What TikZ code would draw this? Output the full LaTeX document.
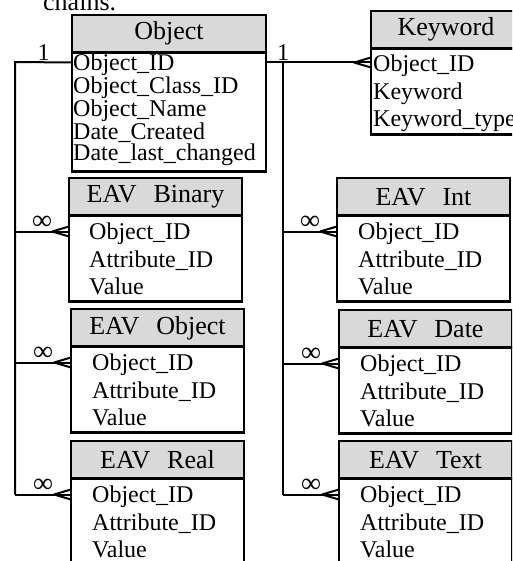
\documentclass[tikz,border=0pt]{standalone}
\usepackage{fontspec}
\setmainfont{Liberation Serif}
\usetikzlibrary{calc}
\definecolor{headgray}{RGB}{217,217,217}

\tikzset{
  head/.style={draw, fill=headgray, line width=2.2pt, anchor=north west,
               inner sep=0pt, outer sep=0pt, minimum height=37.5pt,
               font=\fontsize{26}{26}\selectfont},
  body/.style={draw, line width=2.2pt, anchor=north west, inner sep=0pt, outer sep=0pt},
  fields/.style={anchor=north west, inner sep=0pt, align=left,
                 font=\fontsize{24}{27.5}\selectfont},
  link/.style={line width=2pt},
  card/.style={inner sep=0pt, font=\fontsize{24}{24}\selectfont},
  inf/.style={inner sep=0pt, above=1pt, font=\fontsize{28}{28}\selectfont},
  crow/.pic={\draw[link] (-17,0) -- (0,-5) (-17,0) -- (0,5);}
}

\begin{document}
\begin{tikzpicture}[x=1pt, y=-1pt]
  \useasboundingbox (0,0) rectangle (512,561);
  \clip (0,0) rectangle (512,561);

  \node[anchor=base west, inner sep=0pt, font=\fontsize{26}{26}\selectfont] (caption) at (43,11) {chains.};

  % Object
  \node[head, minimum width=194pt] (obj) at (72,15) {Object};
  \node[body, minimum width=194pt, minimum height=119pt] (obj-body) at (obj.south west) {};
  \node[fields, font=\fontsize{24}{21.75}\selectfont] (obj-fields) at ($(obj-body.north west)+(1,1.5)$)
    {Object\_ID\\Object\_Class\_ID\\Object\_Name\\Date\_Created\\Date\_last\_changed};
  \coordinate (obj-key) at ($(obj-body.north west)+(0,10)$);
  \coordinate (obj-rkey) at (obj-key -| obj-body.east);

  % Keyword
  \node[head, minimum width=150pt] (kw) at (371,11) {Keyword};
  \node[body, minimum width=150pt, minimum height=86pt] (kw-body) at (kw.south west) {};
  \node[fields] (kw-fields) at ($(kw-body.north west)+(2,6.5)$) {Object\_ID\\Keyword\\Keyword\_type};
  \coordinate (kw-key) at ($(kw-body.north west)+(0,14)$);

  % EAV Binary
  \node[head, minimum width=173pt] (bin) at (69,178) {EAV\hspace{.65em}Binary};
  \node[body, minimum width=173pt, minimum height=86pt] (bin-body) at (bin.south west) {};
  \node[fields] (bin-fields) at ($(bin-body.north west)+(20,7.5)$) {Object\_ID\\Attribute\_ID\\Value};
  \coordinate (bin-key) at ($(bin-body.north west)+(0,16)$);

  % EAV Object
  \node[head, minimum width=173pt] (eobj) at (71,309) {EAV\hspace{.65em}Object};
  \node[body, minimum width=173pt, minimum height=86pt] (eobj-body) at (eobj.south west) {};
  \node[fields] (eobj-fields) at ($(eobj-body.north west)+(21,7.5)$) {Object\_ID\\Attribute\_ID\\Value};
  \coordinate (eobj-key) at ($(eobj-body.north west)+(0,16)$);

  % EAV Real
  \node[head, minimum width=173pt] (real) at (71,441) {EAV\hspace{.65em}Real};
  \node[body, minimum width=173pt, minimum height=86pt] (real-body) at (real.south west) {};
  \node[fields] (real-fields) at ($(real-body.north west)+(21,7.5)$) {Object\_ID\\Attribute\_ID\\Value};
  \coordinate (real-key) at ($(real-body.north west)+(0,16)$);

  % EAV Int
  \node[head, minimum width=173pt] (int) at (337,178) {EAV\hspace{.65em}Int};
  \node[body, minimum width=173pt, minimum height=86pt] (int-body) at (int.south west) {};
  \node[fields] (int-fields) at ($(int-body.north west)+(21,7.5)$) {Object\_ID\\Attribute\_ID\\Value};
  \coordinate (int-key) at ($(int-body.north west)+(0,16)$);

  % EAV Date
  \node[head, minimum width=173pt] (date) at (339,310) {EAV\hspace{.65em}Date};
  \node[body, minimum width=173pt, minimum height=86pt] (date-body) at (date.south west) {};
  \node[fields] (date-fields) at ($(date-body.north west)+(21,7.5)$) {Object\_ID\\Attribute\_ID\\Value};
  \coordinate (date-key) at ($(date-body.north west)+(0,16)$);

  % EAV Text
  \node[head, minimum width=173pt] (text) at (339,441) {EAV\hspace{.65em}Text};
  \node[body, minimum width=173pt, minimum height=86pt] (text-body) at (text.south west) {};
  \node[fields] (text-fields) at ($(text-body.north west)+(21,7.5)$) {Object\_ID\\Attribute\_ID\\Value};
  \coordinate (text-key) at ($(text-body.north west)+(0,16)$);

  % left trunk
  \coordinate (lt) at (15,62);
  \draw[link] (obj-key) -- node[card, above=1pt] (one-l) {1} (lt) -- (lt |- real-key);
  \draw[link] (lt |- bin-key) -- node[inf] (inf-bin) {∞} (bin-key);
  \draw[link] (lt |- eobj-key) -- node[inf] (inf-eobj) {∞} (eobj-key);
  \draw[link] (lt |- real-key) -- node[inf] (inf-real) {∞} (real-key);
  \pic at (bin-key) {crow};
  \pic at (eobj-key) {crow};
  \pic at (real-key) {crow};

  % right trunk
  \coordinate (rt) at (283,62);
  \draw[link] (obj-rkey) -- (kw-key);
  \pic at (kw-key) {crow};
  \node[card, above=1pt] (one-r) at (rt) {1};
  \draw[link] (rt) -- (rt |- text-key);
  \draw[link] (rt |- int-key) -- node[inf] (inf-int) {∞} (int-key);
  \draw[link] (rt |- date-key) -- node[inf] (inf-date) {∞} (date-key);
  \draw[link] (rt |- text-key) -- node[inf] (inf-text) {∞} (text-key);
  \pic at (int-key) {crow};
  \pic at (date-key) {crow};
  \pic at (text-key) {crow};
\end{tikzpicture}
\end{document}
